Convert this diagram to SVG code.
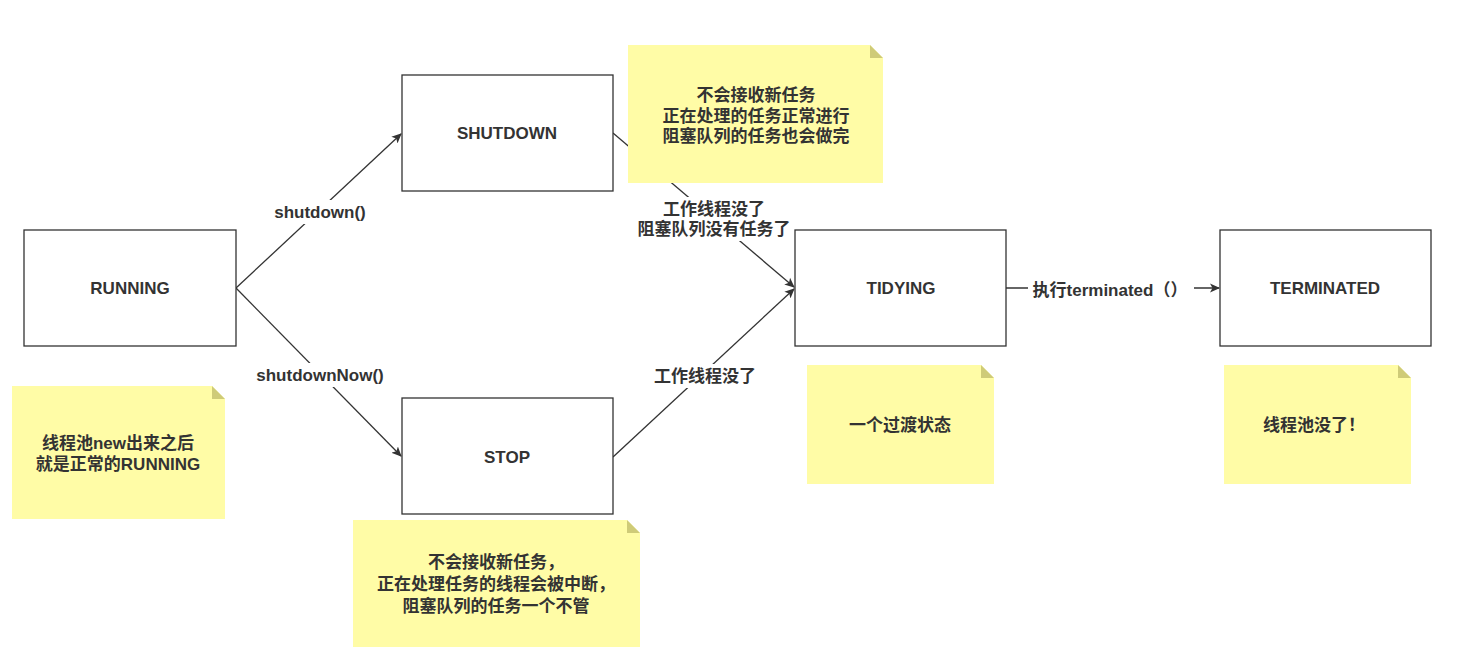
<svg xmlns="http://www.w3.org/2000/svg" width="1460" height="670" viewBox="0 0 1460 670">
  <style>
    .box { fill: #ffffff; stroke: #333333; stroke-width: 1.3; }
    .note { fill: #fffca6; }
    .fold { fill: #cfcb78; }
    .t { font-family: "Liberation Sans", "Noto Sans CJK SC", sans-serif; font-size: 17px; font-weight: bold; fill: #333333; text-anchor: middle; dominant-baseline: central; }
    .edge { fill: none; stroke: #333333; stroke-width: 1.3; marker-end: url(#arrow); }
    .lbl-bg { fill: #ffffff; }
  </style>
  <defs>
    <marker id="arrow" viewBox="0 0 10 10" refX="9" refY="5" markerWidth="10" markerHeight="10" markerUnits="userSpaceOnUse" orient="auto">
      <path d="M0,0.5 L10,5 L0,9.5 L2.5,5 Z" fill="#333333"/>
    </marker>
  </defs>

  <rect width="1460" height="670" fill="#ffffff"/>

  <!-- transitions -->
  <g id="connectors">
    <path class="edge" d="M236,288 L401,134"/>
    <path class="edge" d="M236,288 L401,456"/>
    <path class="edge" d="M613,133 L794,287"/>
    <path class="edge" d="M613,457 L794,289"/>
    <path class="edge" d="M1006,288 L1219,288"/>

    <rect class="lbl-bg" x="266" y="200" width="110" height="24"/>
    <text class="t" x="320" y="212">shutdown()</text>

    <rect class="lbl-bg" x="246" y="363" width="148" height="24"/>
    <text class="t" x="320" y="375">shutdownNow()</text>

    <rect class="lbl-bg" x="632" y="197" width="164" height="44"/>
    <text class="t" x="714" y="209">工作线程没了<tspan x="714" dy="20">阻塞队列没有任务了</tspan></text>

    <rect class="lbl-bg" x="650" y="364" width="110" height="24"/>
    <text class="t" x="705" y="376">工作线程没了</text>

    <rect class="lbl-bg" x="1028" y="278" width="166" height="24"/>
    <text class="t" x="1110" y="290">执行terminated（）</text>
  </g>

  <!-- states -->
  <g id="running">
    <rect class="box" x="24" y="230" width="212" height="116"/>
    <text class="t" x="130" y="288.5">RUNNING</text>
  </g>
  <g id="shutdown">
    <rect class="box" x="402" y="75" width="211" height="116"/>
    <text class="t" x="507" y="133.5">SHUTDOWN</text>
  </g>
  <g id="stop">
    <rect class="box" x="402" y="398" width="211" height="116"/>
    <text class="t" x="507" y="457.5">STOP</text>
  </g>
  <g id="tidying">
    <rect class="box" x="795" y="230" width="211" height="116"/>
    <text class="t" x="901" y="288.5">TIDYING</text>
  </g>
  <g id="terminated">
    <rect class="box" x="1220" y="230" width="211" height="116"/>
    <text class="t" x="1325" y="288.5">TERMINATED</text>
  </g>

  <!-- sticky notes -->
  <g id="note-shutdown">
    <path class="note" d="M628,45 H870 L883,58 V183 H628 Z"/>
    <path class="fold" d="M870,45 L883,58 H870 Z"/>
    <text class="t" x="756" y="95">不会接收新任务<tspan x="756" dy="20.5">正在处理的任务正常进行</tspan><tspan x="756" dy="20.5">阻塞队列的任务也会做完</tspan></text>
  </g>
  <g id="note-running">
    <path class="note" d="M12,386 H212 L225,399 V519 H12 Z"/>
    <path class="fold" d="M212,386 L225,399 H212 Z"/>
    <text class="t" x="118" y="443">线程池new出来之后<tspan x="118" dy="21">就是正常的RUNNING</tspan></text>
  </g>
  <g id="note-stop">
    <path class="note" d="M353,520 H627 L640,533 V647 H353 Z"/>
    <path class="fold" d="M627,520 L640,533 H627 Z"/>
    <text class="t" x="496" y="562">不会接收新任务，<tspan x="496" dy="22">正在处理任务的线程会被中断，</tspan><tspan x="496" dy="22">阻塞队列的任务一个不管</tspan></text>
  </g>
  <g id="note-tidying">
    <path class="note" d="M807,365 H981 L994,378 V484 H807 Z"/>
    <path class="fold" d="M981,365 L994,378 H981 Z"/>
    <text class="t" x="900" y="425">一个过渡状态</text>
  </g>
  <g id="note-terminated">
    <path class="note" d="M1224,365 H1398 L1411,378 V484 H1224 Z"/>
    <path class="fold" d="M1398,365 L1411,378 H1398 Z"/>
    <text class="t" x="1314" y="425">线程池没了！</text>
  </g>
</svg>
